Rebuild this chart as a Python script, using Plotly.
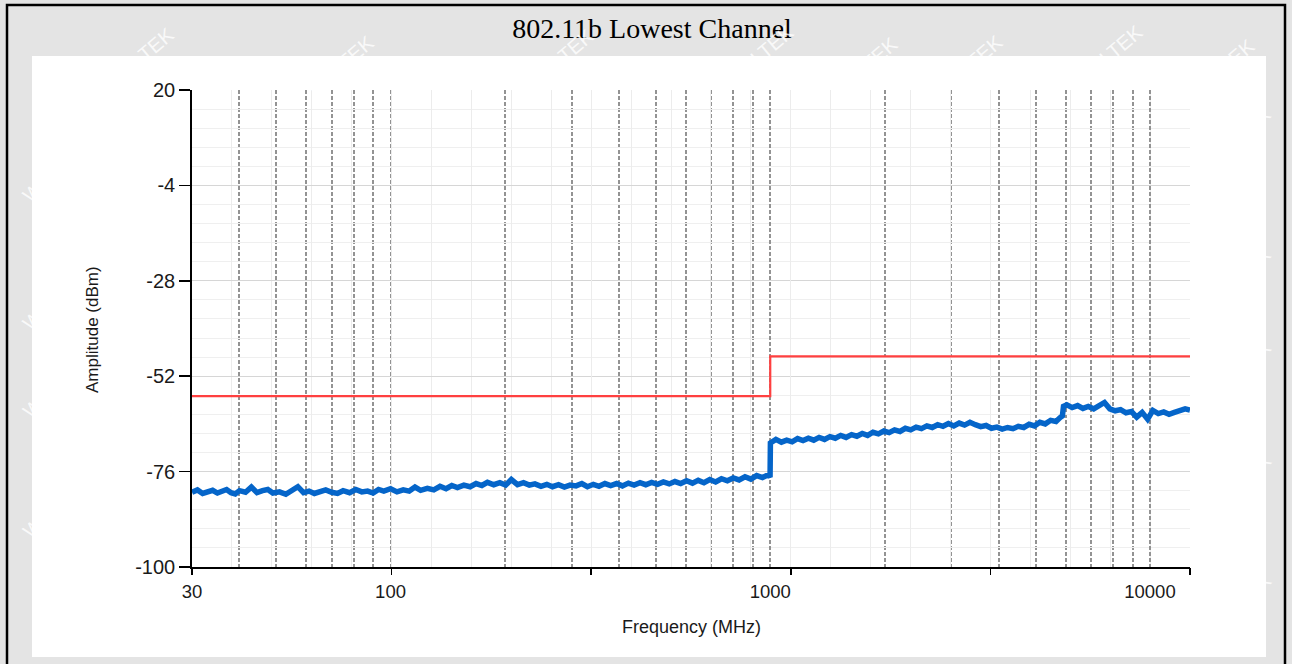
import numpy as np
import plotly.graph_objects as go

# ---------------- data ----------------
freq_low = [30, 31, 32, 33, 34, 35, 36, 37, 38, 39, 40, 41.5, 43, 44.5, 46, 47.5, 49, 51, 53, 55,
            57, 59, 61, 63, 65, 67.5, 70, 72.5, 75, 78, 81, 84, 87, 90, 93, 96, 100, 104, 108, 112,
            116, 120, 125, 130, 135, 140, 145, 150, 156, 162, 168, 174, 180, 187, 194, 201, 208, 216,
            224, 232, 240, 249, 258, 267, 277, 287, 297, 308, 319, 330, 342, 354, 367, 380, 394, 408,
            423, 438, 454, 470, 487, 505, 523, 542, 561, 581, 602, 624, 646, 669, 693, 718, 744, 771,
            799, 828, 858, 889, 921, 954, 988, 999]
amp_low = [-81.2, -80.6, -81.5, -81.0, -80.7, -81.4, -81.1, -80.5, -81.3, -81.6, -80.8, -81.2, -79.9,
           -81.3, -80.8, -80.5, -81.4, -81.1, -81.7, -80.6, -79.8, -81.3, -80.9, -81.5, -81.0, -80.6,
           -81.2, -81.5, -80.8, -81.3, -80.5, -81.1, -80.9, -81.4, -80.5, -80.9, -80.3, -81.1, -80.6,
           -80.9, -79.9, -80.7, -80.2, -80.6, -79.7, -80.3, -79.5, -80.0, -79.4, -79.8, -79.0, -79.5,
           -78.7, -79.3, -78.8, -79.4, -78.0, -79.3, -78.8, -79.4, -79.1, -79.7, -79.2, -79.8, -79.3,
           -79.9, -79.4, -79.6, -79.0, -79.8, -79.2, -79.7, -79.0, -79.5, -79.0, -79.6, -78.9, -79.4,
           -78.8, -79.3, -78.7, -79.2, -78.6, -79.1, -78.5, -79.0, -78.3, -78.9, -78.2, -78.8, -78.0,
           -78.6, -77.8, -78.3, -77.6, -78.1, -77.3, -77.9, -77.0, -77.5, -76.8, -77.4]

freq_high = [1001, 1035, 1070, 1105, 1142, 1180, 1220, 1260, 1302, 1345, 1390, 1436, 1484, 1533,
             1584, 1637, 1691, 1747, 1805, 1865, 1927, 1991, 2057, 2125, 2196, 2269, 2344, 2422,
             2502, 2585, 2671, 2760, 2851, 2946, 3044, 3145, 3249, 3357, 3468, 3583, 3702, 3825,
             3952, 4083, 4218, 4358, 4503, 4652, 4806, 4966, 5130, 5300, 5476, 5658, 5800, 5880,
             5920, 6040, 6240, 6450, 6660, 6880, 7110, 7350, 7590, 7840, 8100, 8370, 8650, 8940,
             9230, 9540, 9860, 10180, 10520, 10870, 11230, 11600, 11990, 12380, 12750]
amp_high = [-68.8, -67.9, -68.6, -68.1, -68.5, -67.7, -68.2, -67.6, -68.1, -67.4, -67.9, -67.2,
            -67.6, -66.9, -67.4, -66.7, -67.1, -66.4, -66.9, -66.1, -66.5, -65.8, -66.2, -65.5,
            -65.9, -65.1, -65.5, -64.8, -65.2, -64.5, -64.9, -64.2, -64.6, -63.9, -64.5, -63.8,
            -64.3, -63.6, -64.2, -64.7, -64.4, -65.1, -64.8, -65.3, -64.9, -65.2, -64.6, -64.9,
            -64.1, -64.5, -63.6, -64.0, -63.1, -63.4, -62.4, -62.0, -59.6, -59.2, -59.9, -59.4,
            -60.1, -59.6, -60.2, -59.5, -58.6, -60.2, -60.7, -60.4, -61.2, -60.9, -62.3, -61.1,
            -62.8, -60.6, -61.4, -61.0, -61.6, -61.1, -60.6, -60.2, -60.5]

limit_freq = [30, 1000, 1000, 12750]
limit_level = [-57, -57, -47, -47]

x_label_vals = [30, 100, 1000, 10000]
x_label_text = ["30", "100", "1000", "10000"]
y_tick_vals = [-100, -76, -52, -28, -4, 20]
y_tick_text = ["-100", "-76", "-52", "-28", "-4", "20"]
dashed_grid = [40, 50, 60, 70, 80, 90, 100, 200, 300, 400, 500, 600, 700, 800, 900, 1000,
               2000, 3000, 4000, 5000, 6000, 7000, 8000, 9000, 10000]

x_min, x_max = 30, 12750
y_min, y_max = -100, 20

# evenly spaced (in log) axis ticks / minor grid as drawn by the original chart control
lo, hi = np.log10(x_min), np.log10(x_max)
even_ticks = [10 ** (lo + (hi - lo) * k / 5) for k in range(6)]
even_minor = [10 ** (lo + (hi - lo) * k / 25) for k in range(26)]

# ---------------- layout geometry (pixels) ----------------
W, H = 1292, 664
PL, PR, PT, PB = 192, 1190, 90, 567


def px(x):
    return (x - PL) / (PR - PL)


def py(y):
    return (PB - y) / (PB - PT)


fig = go.Figure()

fig.add_trace(go.Scatter(
    x=freq_low + freq_high, y=amp_low + amp_high, mode="lines",
    line=dict(color="#0565c9", width=5.5), showlegend=False, hoverinfo="skip"))

fig.add_trace(go.Scatter(
    x=limit_freq, y=limit_level, mode="lines", xaxis="x2",
    line=dict(color="rgb(255,64,64)", width=2.2), showlegend=False, hoverinfo="skip"))

font_main = "Liberation Sans, Arial, sans-serif"

shapes = [
    dict(type="rect", xref="paper", yref="paper", x0=px(7), x1=px(1285), y0=py(700), y1=py(5),
         line=dict(color="black", width=2.5), fillcolor="rgba(0,0,0,0)", layer="below"),
    dict(type="rect", xref="paper", yref="paper", x0=px(32), x1=px(1266), y0=py(657), y1=py(56),
         line=dict(width=0), fillcolor="white", layer="below"),
]

wm_pos = [(100, 20), (300, 28), (560, 22), (760, 18), (905, 30), (1010, 28), (1150, 18), (1262, 32),
          (16, 135), (16, 300), (16, 425), (16, 545), (1278, 100), (1278, 240), (1278, 370),
          (1278, 520), (1278, 640)]
annotations = [
    dict(text="WALTEK", x=px(a), y=py(b), xref="paper", yref="paper", showarrow=False,
         textangle=-40, font=dict(family=font_main, size=20, color="rgba(255,255,255,0.8)"))
    for a, b in wm_pos
]
annotations += [
    dict(text="Frequency (MHz)", x=0.5, y=py(627), xref="paper", yref="paper", showarrow=False,
         font=dict(family=font_main, size=18, color="#1a1a1a"), xanchor="center", yanchor="middle"),
    dict(text="Amplitude (dBm)", x=px(92), y=py(330), xref="paper", yref="paper", showarrow=False,
         textangle=-90, font=dict(family=font_main, size=17, color="#1a1a1a"),
         xanchor="center", yanchor="middle"),
]

fig.update_layout(
    width=W, height=H,
    margin=dict(l=PL, r=W - PR, t=PT, b=H - PB, pad=0),
    paper_bgcolor="#e4e4e4",
    plot_bgcolor="rgba(0,0,0,0)",
    title=dict(text="802.11b Lowest Channel", xref="container", yref="container",
               x=652 / W, y=1 - 28 / H, xanchor="center", yanchor="middle",
               font=dict(family="Liberation Serif, Times New Roman, serif", size=28, color="black")),
    shapes=shapes,
    annotations=annotations,
    xaxis=dict(
        type="log", range=[lo, hi], tickmode="array", tickvals=x_label_vals, ticktext=x_label_text,
        ticks="outside", ticklen=7, tickcolor="rgba(0,0,0,0)",
        tickfont=dict(family=font_main, size=18.5, color="#1a1a1a"),
        showgrid=True, gridcolor="#939393", gridwidth=2, griddash="4px,2px",
        minor=dict(tickmode="array", tickvals=dashed_grid, showgrid=True, gridcolor="#939393",
                   gridwidth=2, griddash="4px,2px", ticks=""),
        showline=True, linecolor="black", linewidth=1.8, zeroline=False, fixedrange=True,
    ),
    xaxis2=dict(
        type="log", range=[lo, hi], overlaying="x", anchor="y", side="bottom",
        tickmode="array", tickvals=even_ticks, showticklabels=False,
        ticks="outside", ticklen=7, tickcolor="black", tickwidth=1.5,
        showgrid=True, gridcolor="#ececec", gridwidth=1,
        minor=dict(tickmode="array", tickvals=even_minor, showgrid=True, gridcolor="#ececec",
                   gridwidth=1, ticks=""),
        showline=False, zeroline=False, fixedrange=True,
    ),
    yaxis=dict(
        range=[y_min, y_max], tickmode="array", tickvals=y_tick_vals, ticktext=y_tick_text,
        ticks="outside", ticklen=11, tickcolor="black", tickwidth=1.5,
        tickfont=dict(family=font_main, size=20, color="#1a1a1a"),
        showgrid=True, gridcolor="#d6d6d6", gridwidth=1.3,
        minor=dict(tick0=-100, dtick=4.8, showgrid=True, gridcolor="#efefef", gridwidth=1, ticks=""),
        showline=True, linecolor="black", linewidth=1.8, zeroline=False, fixedrange=True,
    ),
)

fig.write_html("out.html", config={"displayModeBar": False, "staticPlot": True})

# remove the browser's default page margin so the figure sits at the window origin
with open("out.html", "r", encoding="utf-8") as f:
    page = f.read()
page = page.replace("<head>", "<head><style>html,body{margin:0;padding:0;overflow:hidden;}</style>", 1)
with open("out.html", "w", encoding="utf-8") as f:
    f.write(page)
